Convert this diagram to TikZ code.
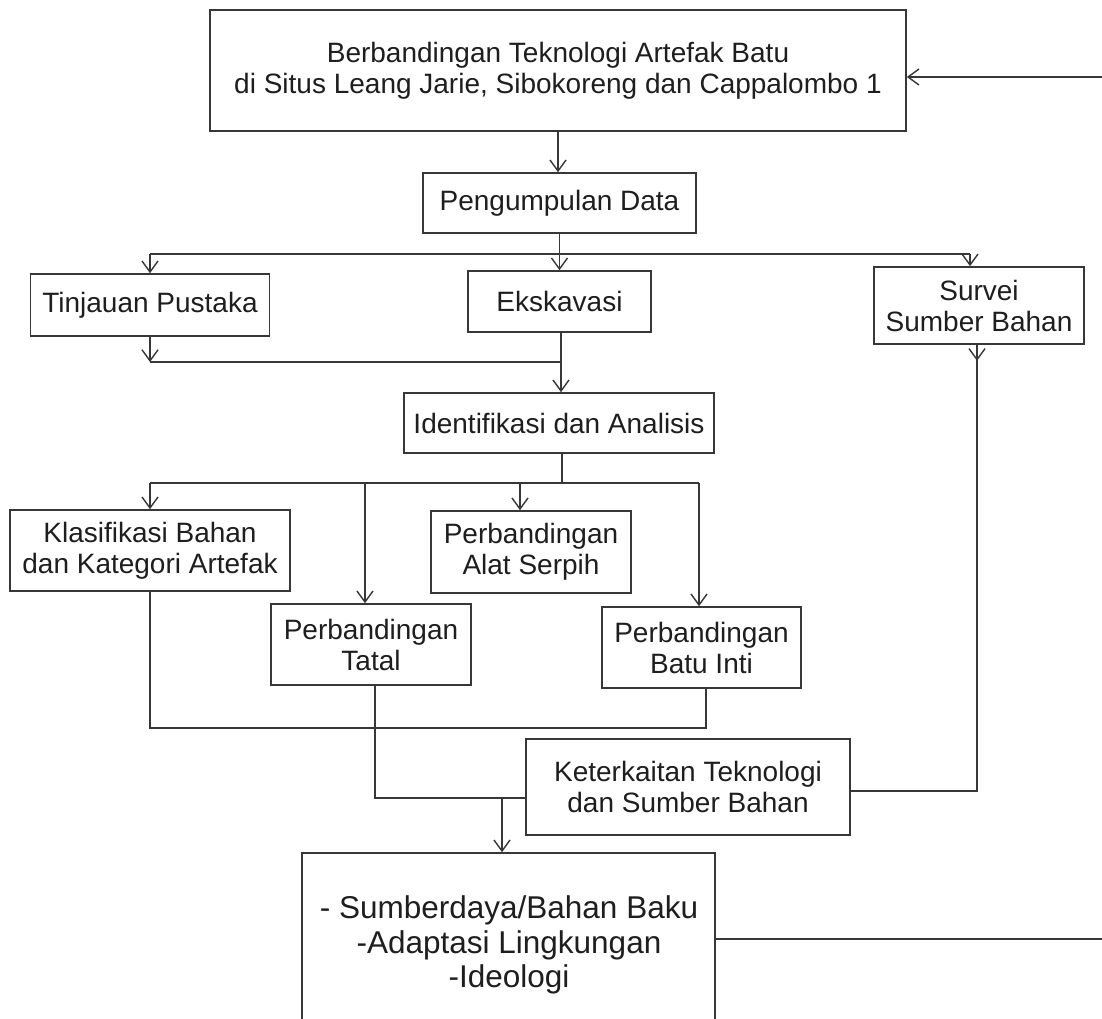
\documentclass[tikz,border=0pt]{standalone}
\usepackage{fontspec}
\setmainfont{Liberation Sans}
\usetikzlibrary{arrows.meta,calc}
\definecolor{ln}{RGB}{55,55,55}
\definecolor{tx}{RGB}{30,30,30}
\begin{document}
\begin{tikzpicture}[x=1pt,y=-1pt,
  box/.style={draw=ln, line width=1.6pt, rectangle, inner sep=0pt, align=center, text=tx, font=\fontsize{28}{31}\selectfont},
  conn/.style={draw=ln, line width=1.4pt},
  arr/.style={conn, -{Straight Barb[length=11pt,width=16pt]}}]
\useasboundingbox (0,0) rectangle (1102,1019);
\fill[white] (0,0) rectangle (1102,1019);
\clip (0,0) rectangle (1102,1019);

% nodes
\node[box, minimum width=696pt, minimum height=121pt] (top) at (558,70.5) {Berbandingan Teknologi Artefak Batu\\di Situs Leang Jarie, Sibokoreng dan Cappalombo 1};
\node[box, minimum width=273pt, minimum height=60pt] (peng) at (559.5,203) {Pengumpulan Data};
\node[box, minimum width=239pt, minimum height=62pt] (tin) at (150,305) {Tinjauan Pustaka};
\node[box, minimum width=183pt, minimum height=61pt] (eks) at (559.5,301.5) {Ekskavasi};
\node[box, minimum width=210pt, minimum height=77pt] (sur) at (979,305.5) {Survei\\Sumber Bahan};
\node[box, minimum width=310pt, minimum height=60pt] (ide) at (559,423) {Identifikasi dan Analisis};
\node[box, minimum width=280pt, minimum height=81pt] (kla) at (150,550.5) {Klasifikasi Bahan\\dan Kategori Artefak};
\node[box, minimum width=200pt, minimum height=82pt] (ser) at (531,552) {Perbandingan\\Alat Serpih};
\node[box, minimum width=200pt, minimum height=81pt] (tat) at (371,644.5) {Perbandingan\\Tatal};
\node[box, minimum width=199pt, minimum height=81pt] (bat) at (701.5,647.5) {Perbandingan\\Batu Inti};
\node[box, minimum width=324pt, minimum height=96pt] (ket) at (688,787) {Keterkaitan Teknologi\\dan Sumber Bahan};
\node[box, minimum width=413pt, minimum height=187pt] (res) at (508.5,946.5) {};
\node[text=tx, align=center, inner sep=0pt, font=\fontsize{31.5}{34.5}\selectfont] (restext) at (509,945) {- Sumberdaya/Bahan Baku\\-Adaptasi Lingkungan\\-Ideologi};

% junction coordinates
\coordinate (j1) at (559,254);
\coordinate (j2) at (561,362);
\coordinate (j3) at (562,483);
\coordinate (j4) at (0,728);
\coordinate (j5) at (502,798);
\coordinate (j6) at (0,791);
\coordinate (j7) at (0,939);
\coordinate (j8) at (1125,0);
\coordinate (j9) at (0,77);
\coordinate (surin) at ([xshift=-9pt]sur.north);
\coordinate (surout) at ([xshift=-2pt]sur.south);
\coordinate (tatin) at ([xshift=-6pt]tat.north);
\coordinate (serin) at ([xshift=-11pt]ser.north);
\coordinate (batin) at ([xshift=-2.5pt]bat.north);
\coordinate (batout) at ([xshift=4.5pt]bat.south);
\coordinate (tatout) at ([xshift=4pt]tat.south);

% connectors
\draw[arr] (top.south) -- (top.south |- peng.north);
\draw[conn] (peng.south) -- (peng.south |- j1);
\draw[conn] (tin.north |- j1) -- (surin |- j1);
\draw[arr] (tin.north |- j1) -- (tin.north);
\draw[arr] (peng.south |- j1) -- (peng.south |- eks.north);
\draw[arr] (surin |- j1) -- (surin);

\draw[arr] (tin.south) -- (tin.south |- j2);
\draw[conn] (tin.south |- j2) -- (j2);
\draw[conn] (j2 |- eks.south) -- (j2);
\draw[arr] (j2) -- (j2 |- ide.north);

\draw[conn] (j3 |- ide.south) -- (j3);
\draw[conn] (kla.north |- j3) -- (batin |- j3);
\draw[arr] (kla.north |- j3) -- (kla.north);
\draw[arr] (tatin |- j3) -- (tatin);
\draw[arr] (serin |- j3) -- (serin);
\draw[arr] (batin |- j3) -- (batin);

\draw[conn] (kla.south) -- (kla.south |- j4) -- (batout |- j4) -- (batout);

\draw[conn] (tatout) -- (tatout |- j5) -- (j5 -| ket.west);
\draw[arr] (j5) -- (j5 |- res.north);

\draw[arr] (surout) -- ++(0,16);
\draw[conn] (surout) -- (surout |- j6) -- (ket.east |- j6);

\draw[arr] (res.east |- j7) -- (j8 |- j7) -- (j8 |- j9) -- (top.east |- j9);
\end{tikzpicture}
\end{document}
